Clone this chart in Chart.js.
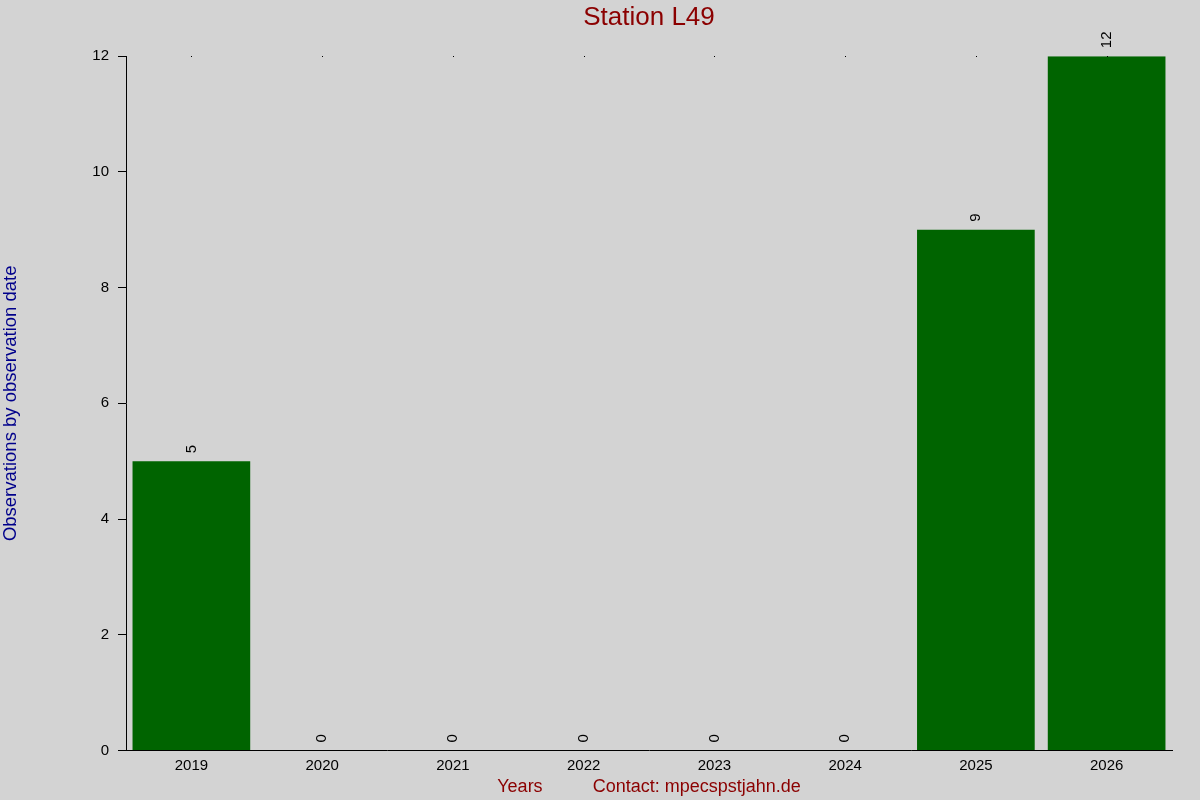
<!DOCTYPE html>
<html>
<head>
<meta charset="utf-8">
<title>Station L49</title>
<script src="https://cdn.jsdelivr.net/npm/chart.js@4/dist/chart.umd.min.js"></script>
<style>
  html, body { margin: 0; padding: 0; background: #d3d3d3; }
  #wrap { width: 1200px; height: 800px; position: relative; }
</style>
</head>
<body>
<div id="wrap"><canvas id="chart"></canvas></div>
<script>
// Observations per year for station L49.
const years = ['2019', '2020', '2021', '2022', '2023', '2024', '2025', '2026'];
const counts = [5, 0, 0, 0, 0, 0, 9, 12];
const yTicks = [0, 2, 4, 6, 8, 10, 12];

const FONT = 'Liberation Sans, Arial, Helvetica, sans-serif';
const BAR = '#006400';
const RED = '#8b0000';
const BLUE = '#00008b';

Chart.defaults.font.family = FONT;
Chart.defaults.color = '#000';

// Rotated value labels above each bar, plus the tiny top markers.
const barLabels = {
  id: 'barLabels',
  afterDatasetsDraw(chart) {
    const { ctx, chartArea, scales } = chart;
    const meta = chart.getDatasetMeta(0);
    ctx.save();
    ctx.fillStyle = '#000';
    ctx.font = '15px ' + FONT;
    ctx.textAlign = 'left';
    ctx.textBaseline = 'middle';
    meta.data.forEach((bar, i) => {
      ctx.save();
      ctx.translate(bar.x, bar.y - 8);
      ctx.rotate(-Math.PI / 2);
      ctx.fillText(String(counts[i]), 0, 0);
      ctx.restore();
    });
    years.forEach((y, i) => {
      const x = Math.round(scales.x.getPixelForValue(i));
      ctx.fillRect(x, Math.round(chartArea.top), 1, 1);
    });
    ctx.restore();
  },
};

new Chart(document.getElementById('chart'), {
  type: 'bar',
  data: {
    labels: years,
    datasets: [{
      data: counts,
      backgroundColor: BAR,
      borderWidth: 0,
      barPercentage: 0.9,
      categoryPercentage: 1.0,
    }],
  },
  options: {
    responsive: true,
    maintainAspectRatio: false,
    animation: false,
    layout: { padding: { top: 0, right: 28, bottom: 2, left: 0 } },
    plugins: {
      legend: { display: false },
      tooltip: { enabled: false },
      title: {
        display: true,
        text: 'Station L49',
        color: RED,
        fullSize: false,
        font: { size: 26, weight: 'normal', family: FONT },
        padding: { top: 2, bottom: 23 },
      },
    },
    scales: {
      x: {
        grid: { display: false, drawTicks: false },
        border: { display: true, color: '#000', width: 1 },
        ticks: { color: '#000', font: { size: 15 }, padding: 6, maxRotation: 0 },
        title: {
          display: true,
          text: 'Years          Contact: mpecspstjahn.de',
          color: RED,
          font: { size: 18, family: FONT },
          padding: { top: -4, bottom: 0 },
        },
      },
      y: {
        min: 0,
        max: 12,
        afterBuildTicks(scale) { scale.ticks = yTicks.map((v) => ({ value: v })); },
        afterFit(scale) { scale.width = 126; },
        grid: { display: true, drawOnChartArea: false, drawTicks: true, tickLength: 8, color: '#000' },
        border: { display: true, color: '#000', width: 1 },
        ticks: { color: '#000', font: { size: 15 }, padding: 9 },
        title: {
          display: true,
          text: 'Observations by observation date',
          color: BLUE,
          font: { size: 18.5, family: FONT },
          padding: 0,
        },
      },
    },
  },
  plugins: [barLabels],
});
</script>
</body>
</html>
